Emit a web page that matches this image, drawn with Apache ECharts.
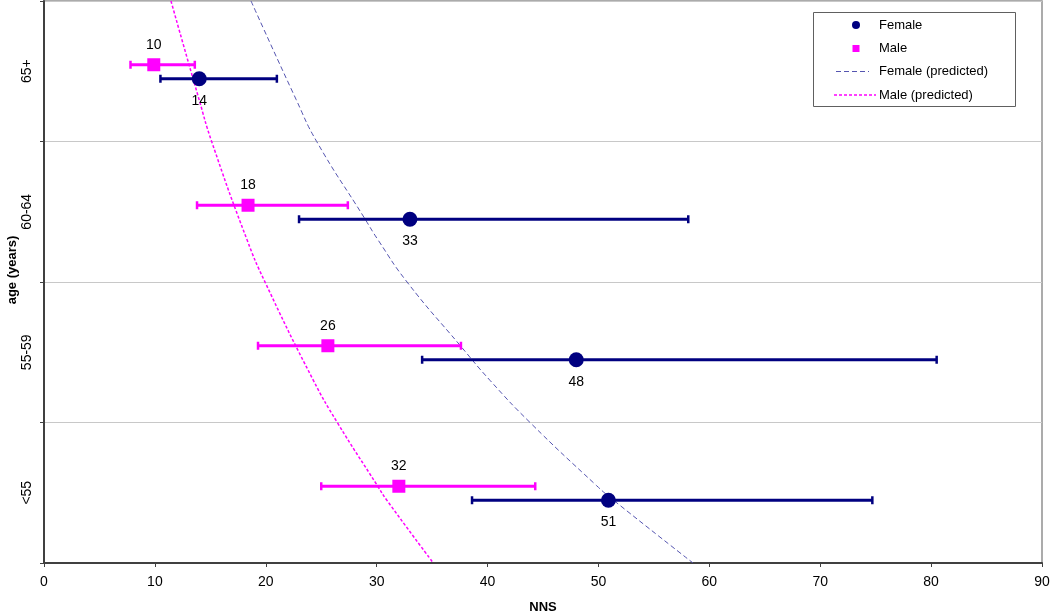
<!DOCTYPE html>
<html>
<head>
<meta charset="utf-8">
<script src="https://cdn.jsdelivr.net/npm/echarts@6/dist/echarts.min.js"></script>
<style>
html,body{margin:0;padding:0;background:#fff;}
#chart{width:1050px;height:613px;}
</style>
</head>
<body>
<div id="chart"></div>
<script>
// ---- data ----
const categories = ['<55', '55-59', '60-64', '65+'];
const femaleNNS  = [50.9, 48.0, 33.0, 14.0];
const femaleLow  = [38.6, 34.1, 23.0, 10.5];
const femaleHigh = [74.7, 80.5, 58.1, 21.0];
const maleNNS    = [32.0, 25.6, 18.4, 9.9];
const maleLow    = [25.0, 19.3, 13.8, 7.8];
const maleHigh   = [44.3, 37.6, 27.4, 13.6];
// predicted curves (y in age-band units, 0 = bottom of '<55', 4 = top of '65+')
const femalePredY = [4.0, 3.3, 3.0, 2.46, 2.3, 2.0, 1.55, 1.3, 1.0, 0.55, 0.45, 0.0];
const femalePredX = [18.67, 22.73, 24.59, 28.86, 30.12, 32.74, 37.51, 40.22, 43.83, 49.84, 51.31, 58.53];
const malePredY = [4.0, 3.3, 3.0, 2.3, 2.0, 1.3, 1.0, 0.55, 0.45, 0.0];
const malePredX = [11.45, 13.98, 15.12, 18.31, 19.93, 24.29, 26.45, 30.07, 30.89, 35.11];
const xTicks = [0, 10, 20, 30, 40, 50, 60, 70, 80, 90];
const legendNames = ['Female', 'Male', 'Female (predicted)', 'Male (predicted)'];

const FONT = 'Liberation Sans, Arial, sans-serif';
const NAVY = '#000080';
const MAGENTA = '#ff00ff';
const FPRED = '#5555b0';
const F_OFF = 7.5;   // pixel offset of female row
const M_OFF = -6.5;  // pixel offset of male row

function errRender(color, off) {
  return function (params, api) {
    const y = api.value(2);
    const a = api.coord([api.value(0), y]);
    const b = api.coord([api.value(1), y]);
    const yy = a[1] + off;
    return {
      type: 'group',
      children: [
        {type: 'line', shape: {x1: a[0], y1: yy, x2: b[0], y2: yy}, style: {stroke: color, lineWidth: 3}},
        {type: 'line', shape: {x1: a[0], y1: yy - 4, x2: a[0], y2: yy + 4}, style: {stroke: color, lineWidth: 2.5}},
        {type: 'line', shape: {x1: b[0], y1: yy - 4, x2: b[0], y2: yy + 4}, style: {stroke: color, lineWidth: 2.5}}
      ]
    };
  };
}

// legend drawn as graphic elements
const LX = 813, LY = 12, LW = 202, LH = 94;
const rowY = [25, 48.5, 71.5, 95];
const legendGraphics = [
  {type: 'rect', left: LX, top: LY, shape: {width: LW, height: LH},
   style: {fill: '#fff', stroke: '#606060', lineWidth: 1}, z: 100},
  {type: 'circle', shape: {cx: 856, cy: rowY[0], r: 4}, style: {fill: NAVY}, z: 101},
  {type: 'rect', shape: {x: 852.5, y: rowY[1] - 3.5, width: 7, height: 7}, style: {fill: MAGENTA}, z: 101},
  {type: 'line', shape: {x1: 836, y1: rowY[2], x2: 869, y2: rowY[2]},
   style: {stroke: FPRED, lineWidth: 1, lineDash: [5, 3]}, z: 101},
  {type: 'line', shape: {x1: 834, y1: rowY[3], x2: 876, y2: rowY[3]},
   style: {stroke: MAGENTA, lineWidth: 1.5, lineDash: [3, 2]}, z: 101},
  {type: 'text', x: 12, y: 270, rotation: Math.PI / 2, z: 101,
   style: {text: 'age (years)', fill: '#000', font: 'bold 13px ' + FONT, align: 'center', verticalAlign: 'middle'}}
].concat(legendNames.map((n, i) => ({
  type: 'text', x: 879, y: rowY[i], z: 101,
  style: {text: n, fill: '#000', font: '13px ' + FONT, verticalAlign: 'middle'}
})));

const chart = echarts.init(document.getElementById('chart'));
chart.setOption({
  animation: false,
  backgroundColor: '#fff',
  textStyle: {fontFamily: FONT},
  grid: {left: 44, right: 8, top: 1, bottom: 50, show: true, borderColor: '#909090', borderWidth: 1.5,
         containLabel: false, outerBoundsMode: 'none'},
  graphic: legendGraphics,
  xAxis: {
    type: 'value', min: xTicks[0], max: xTicks[xTicks.length - 1], interval: 10,
    name: 'NNS', nameLocation: 'middle', nameGap: 38,
    nameTextStyle: {fontFamily: FONT, fontSize: 13, fontWeight: 'bold', color: '#000'},
    axisLine: {show: true, lineStyle: {color: '#404040', width: 2}},
    axisTick: {show: true, length: 4, lineStyle: {color: '#404040'}},
    axisLabel: {fontFamily: FONT, fontSize: 14, color: '#000', margin: 12},
    splitLine: {show: false}
  },
  yAxis: [
    {
      type: 'value', min: 0, max: 4, interval: 1,
      axisLine: {show: true, onZero: false, lineStyle: {color: '#404040', width: 2}},
      axisTick: {show: true, length: 4, lineStyle: {color: '#404040'}},
      axisLabel: {show: false},
      splitLine: {show: true, lineStyle: {color: '#c8c8c8', width: 1}}
    },
    {
      type: 'category', position: 'left', data: categories,
      axisLine: {show: false}, axisTick: {show: false}, splitLine: {show: false},
      axisLabel: {rotate: 90, fontFamily: FONT, fontSize: 14, color: '#000', margin: 10}
    }
  ],
  series: [
    {
      name: 'Female (predicted)', type: 'line', smooth: 0.5, symbol: 'none', z: 2,
      lineStyle: {color: FPRED, width: 1, type: [5, 3]},
      data: femalePredX.map((x, i) => [x, femalePredY[i]])
    },
    {
      name: 'Male (predicted)', type: 'line', smooth: 0.5, symbol: 'none', z: 2,
      lineStyle: {color: MAGENTA, width: 1.5, type: [3, 2]},
      data: malePredX.map((x, i) => [x, malePredY[i]])
    },
    {
      name: 'Female CI', type: 'custom', z: 3,
      renderItem: errRender(NAVY, F_OFF),
      data: categories.map((c, i) => [femaleLow[i], femaleHigh[i], i + 0.5])
    },
    {
      name: 'Male CI', type: 'custom', z: 3,
      renderItem: errRender(MAGENTA, M_OFF),
      data: categories.map((c, i) => [maleLow[i], maleHigh[i], i + 0.5])
    },
    {
      name: 'Female', type: 'scatter', symbol: 'circle', symbolSize: 15, z: 4,
      symbolOffset: [0, F_OFF],
      itemStyle: {color: NAVY, opacity: 1},
      label: {show: true, position: 'inside', offset: [0, 22],
        formatter: p => Math.round(p.value[0]), fontFamily: FONT, fontSize: 14, color: '#000'},
      data: categories.map((c, i) => [femaleNNS[i], i + 0.5])
    },
    {
      name: 'Male', type: 'scatter', symbol: 'rect', symbolSize: 13, z: 4,
      symbolOffset: [0, M_OFF],
      itemStyle: {color: MAGENTA, opacity: 1},
      label: {show: true, position: 'inside', offset: [0, -20],
        formatter: p => Math.round(p.value[0]), fontFamily: FONT, fontSize: 14, color: '#000'},
      data: categories.map((c, i) => [maleNNS[i], i + 0.5])
    }
  ]
});
</script>
</body>
</html>
